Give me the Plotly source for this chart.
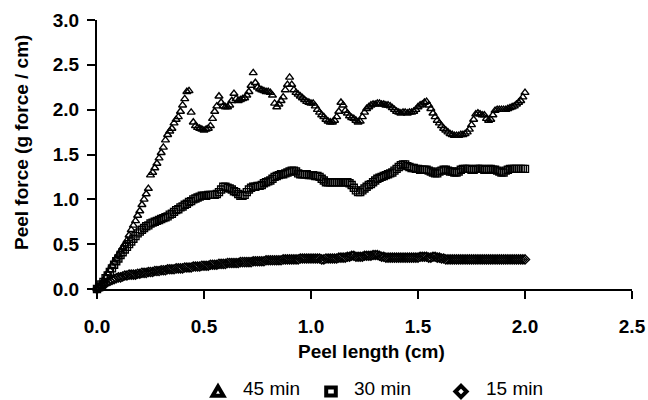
import plotly.graph_objects as go

# Peel force (g force / cm) read every 0.01 cm of peel length, from 0.00 to 2.00 cm
force_45 = [
    0.00, 0.02, 0.06, 0.09, 0.13, 0.17, 0.21, 0.26, 0.30, 0.34,
    0.38, 0.42, 0.46, 0.50, 0.54, 0.60, 0.66, 0.71, 0.76, 0.82,
    0.87, 0.94, 1.00, 1.06, 1.12, 1.27, 1.30, 1.35, 1.40, 1.46,
    1.52, 1.58, 1.66, 1.72, 1.76, 1.79, 1.85, 1.89, 1.92, 1.98,
    2.05, 2.12, 2.20, 2.21, 1.97, 1.86, 1.82, 1.80, 1.79, 1.78,
    1.77, 1.78, 1.79, 1.82, 1.90, 1.98, 2.04, 2.15, 2.08, 2.04,
    2.03, 2.03, 2.05, 2.10, 2.18, 2.12, 2.10, 2.11, 2.12, 2.13,
    2.16, 2.20, 2.27, 2.41, 2.30, 2.25, 2.23, 2.22, 2.21, 2.20,
    2.20, 2.19, 2.16, 2.07, 2.03, 2.06, 2.10, 2.14, 2.22, 2.28,
    2.36, 2.28, 2.22, 2.19, 2.17, 2.15, 2.13, 2.11, 2.09, 2.08,
    2.07, 2.07, 2.04, 2.00, 1.97, 1.94, 1.92, 1.89, 1.87, 1.86,
    1.86, 1.88, 1.92, 1.98, 2.08, 2.05, 1.99, 1.96, 1.93, 1.91,
    1.90, 1.88, 1.86, 1.87, 1.92, 1.97, 2.01, 2.03, 2.05, 2.06,
    2.06, 2.07, 2.07, 2.06, 2.06, 2.05, 2.05, 2.04, 2.02, 2.00,
    1.98, 1.97, 1.96, 1.97, 1.97, 1.96, 1.97, 1.97, 1.98, 2.00,
    2.03, 2.05, 2.06, 2.08, 2.09, 2.05, 2.01, 1.96, 1.92, 1.88,
    1.85, 1.82, 1.79, 1.77, 1.75, 1.73, 1.72, 1.71, 1.71, 1.71,
    1.72, 1.72, 1.73, 1.75, 1.78, 1.83, 1.89, 1.95, 1.96, 1.95,
    1.94, 1.94, 1.90, 1.88, 1.89, 1.94, 1.99, 2.00, 2.00, 2.00,
    2.00, 2.00, 2.01, 2.02, 2.03, 2.04, 2.06, 2.08, 2.10, 2.14,
    2.19,
]

force_30 = [
    0.00, 0.02, 0.05, 0.08, 0.12, 0.15, 0.19, 0.23, 0.27, 0.31,
    0.34, 0.38, 0.41, 0.44, 0.47, 0.50, 0.53, 0.56, 0.59, 0.62,
    0.64, 0.66, 0.68, 0.70, 0.71, 0.73, 0.74, 0.75, 0.76, 0.77,
    0.78, 0.79, 0.80, 0.81, 0.83, 0.84, 0.86, 0.88, 0.89, 0.91,
    0.92, 0.94, 0.95, 0.97, 0.98, 1.00, 1.01, 1.02, 1.03, 1.04,
    1.04, 1.04, 1.05, 1.05, 1.05, 1.05, 1.06, 1.08, 1.11, 1.14,
    1.14, 1.13, 1.12, 1.11, 1.09, 1.08, 1.06, 1.04, 1.04, 1.05,
    1.08, 1.11, 1.13, 1.14, 1.14, 1.15, 1.15, 1.16, 1.18, 1.19,
    1.20, 1.21, 1.23, 1.25, 1.26, 1.27, 1.28, 1.28, 1.29, 1.30,
    1.31, 1.32, 1.32, 1.31, 1.29, 1.28, 1.28, 1.28, 1.28, 1.27,
    1.27, 1.27, 1.26, 1.26, 1.25, 1.23, 1.21, 1.19, 1.19, 1.19,
    1.19, 1.19, 1.19, 1.19, 1.19, 1.19, 1.19, 1.19, 1.18, 1.16,
    1.13, 1.10, 1.08, 1.08, 1.10, 1.12, 1.14, 1.16, 1.17, 1.19,
    1.21, 1.23, 1.24, 1.25, 1.26, 1.27, 1.28, 1.29, 1.30, 1.32,
    1.34, 1.36, 1.38, 1.39, 1.39, 1.37, 1.36, 1.35, 1.35, 1.34,
    1.34, 1.33, 1.33, 1.33, 1.33, 1.32, 1.31, 1.30, 1.29, 1.29,
    1.31, 1.32, 1.33, 1.33, 1.32, 1.31, 1.31, 1.30, 1.30, 1.31,
    1.33, 1.34, 1.34, 1.34, 1.34, 1.33, 1.33, 1.34, 1.34, 1.34,
    1.34, 1.33, 1.33, 1.34, 1.34, 1.33, 1.33, 1.32, 1.31, 1.30,
    1.30, 1.32, 1.33, 1.34, 1.34, 1.34, 1.34, 1.34, 1.34, 1.34,
    1.34,
]

force_15 = [
    0.00, 0.02, 0.03, 0.05, 0.06, 0.08, 0.09, 0.10, 0.11, 0.12,
    0.13, 0.13, 0.14, 0.15, 0.15, 0.16, 0.16, 0.16, 0.16, 0.17,
    0.17, 0.18, 0.18, 0.18, 0.19, 0.19, 0.19, 0.20, 0.20, 0.20,
    0.21, 0.21, 0.21, 0.22, 0.22, 0.22, 0.22, 0.23, 0.23, 0.23,
    0.23, 0.24, 0.24, 0.24, 0.24, 0.25, 0.25, 0.25, 0.25, 0.26,
    0.26, 0.26, 0.26, 0.27, 0.27, 0.27, 0.27, 0.28, 0.28, 0.28,
    0.28, 0.29, 0.29, 0.29, 0.29, 0.29, 0.29, 0.30, 0.30, 0.30,
    0.30, 0.30, 0.30, 0.31, 0.31, 0.31, 0.31, 0.31, 0.31, 0.32,
    0.32, 0.32, 0.32, 0.32, 0.32, 0.32, 0.32, 0.33, 0.33, 0.33,
    0.33, 0.33, 0.33, 0.33, 0.33, 0.34, 0.34, 0.34, 0.34, 0.34,
    0.34, 0.34, 0.34, 0.34, 0.34, 0.33, 0.33, 0.34, 0.34, 0.34,
    0.34, 0.34, 0.34, 0.35, 0.35, 0.35, 0.35, 0.36, 0.36, 0.37,
    0.37, 0.36, 0.36, 0.36, 0.36, 0.37, 0.37, 0.37, 0.37, 0.38,
    0.38, 0.38, 0.37, 0.36, 0.36, 0.35, 0.35, 0.35, 0.35, 0.35,
    0.35, 0.35, 0.35, 0.35, 0.35, 0.35, 0.35, 0.35, 0.35, 0.35,
    0.35, 0.36, 0.36, 0.36, 0.36, 0.35, 0.35, 0.36, 0.36, 0.35,
    0.35, 0.34, 0.34, 0.33, 0.33, 0.33, 0.33, 0.33, 0.33, 0.33,
    0.33, 0.33, 0.33, 0.33, 0.33, 0.33, 0.33, 0.33, 0.33, 0.33,
    0.33, 0.33, 0.33, 0.33, 0.33, 0.33, 0.33, 0.33, 0.33, 0.33,
    0.33, 0.33, 0.33, 0.33, 0.33, 0.33, 0.33, 0.33, 0.33, 0.33,
    0.33,
]

# Peel length (cm) at which each reading was taken (every 0.01 cm)
peel_length = [round(i * 0.01, 2) for i in range(201)]

series_names = ["45 min", "30 min", "15 min"]
series_symbols = ["triangle-up-open", "square-open", "diamond-open"]
series_values = [force_45, force_30, force_15]

x_ticks = [0.0, 0.5, 1.0, 1.5, 2.0, 2.5]
y_ticks = [0.0, 0.5, 1.0, 1.5, 2.0, 2.5, 3.0]

FONT = "Liberation Sans, Arial, sans-serif"

# plot-area geometry in pixels (used to place the legend keys/text)
W, H = 648, 400
L, R, T, B = 97, 16, 20, 111
PW, PH = W - L - R, H - T - B


def px_to_paper_x(px):
    return (px - L) / PW


def px_to_paper_y(py):
    return (H - B - py) / PH


fig = go.Figure()
for name, sym, vals in zip(series_names, series_symbols, series_values):
    fig.add_trace(go.Scatter(
        x=peel_length[:len(vals)], y=vals, mode="markers", name=name, showlegend=False,
        cliponaxis=False,
        marker=dict(symbol=sym, size=7, color="black",
                    line=dict(color="black", width=1.4)),
    ))

# Legend: key symbols drawn as pixel-sized shapes, labels as text
key_paths = {
    "triangle-up-open": "M -5.4,-4.2 L 5.4,-4.2 L 0,5 Z",
    "square-open": "M -4.8,-4 L 4.8,-4 L 4.8,4 L -4.8,4 Z",
    "diamond-open": "M 0,-5.6 L 5.6,0 L 0,5.6 L -5.6,0 Z",
}
key_centers_px = [218, 331, 461]
label_left_px = [242, 353, 485]
legend_key_y_px = 391.5
legend_text_bottom_px = 400

shapes = []
annotations = []
for name, sym, kx, tx in zip(series_names, series_symbols, key_centers_px, label_left_px):
    shapes.append(dict(
        type="path", xref="paper", yref="paper",
        xsizemode="pixel", ysizemode="pixel",
        xanchor=px_to_paper_x(kx), yanchor=px_to_paper_y(legend_key_y_px),
        path=key_paths[sym], line=dict(color="black", width=4),
        fillcolor="rgba(0,0,0,0)", layer="above",
    ))
    annotations.append(dict(
        text=name, xref="paper", yref="paper",
        x=px_to_paper_x(tx), y=px_to_paper_y(legend_text_bottom_px),
        xanchor="left", yanchor="bottom", showarrow=False, borderpad=0,
        font=dict(family=FONT, size=19, color="black"),
    ))

annotations += [
    dict(text="Peel length (cm)", xref="paper", yref="paper",
         x=px_to_paper_x(371), y=px_to_paper_y(351), xanchor="center", yanchor="middle",
         showarrow=False, font=dict(family=FONT, size=19, weight="bold", color="black")),
    dict(text="Peel force (g force / cm)", xref="paper", yref="paper",
         x=px_to_paper_x(21), y=px_to_paper_y(143), xanchor="center", yanchor="middle",
         showarrow=False, textangle=-90,
         font=dict(family=FONT, size=19, weight="bold", color="black")),
]

axis_common = dict(
    showline=True, linecolor="black", linewidth=2, mirror=False,
    ticks="outside", ticklen=8, tickwidth=1.5, tickcolor="black",
    showgrid=False, zeroline=False, automargin=False,
    tickfont=dict(family=FONT, size=19, weight="bold", color="black"),
)

fig.update_layout(
    width=W, height=H,
    margin=dict(l=L, r=R, t=T, b=B),
    paper_bgcolor="white", plot_bgcolor="white",
    font=dict(family=FONT, color="black"),
    showlegend=False,
    xaxis=dict(range=[0, 2.5], tickvals=x_ticks, ticktext=[f"{v:.1f}" for v in x_ticks],
               ticklabelstandoff=11, **axis_common),
    yaxis=dict(range=[0, 3.0], tickvals=y_ticks, ticktext=[f"{v:.1f}" for v in y_ticks],
               ticklabelstandoff=4, **axis_common),
    shapes=shapes,
    annotations=annotations,
)

# remove the page's default 8px body margin so the figure fills the window exactly
fig.write_html("out.html", config={"displayModeBar": False},
               post_script="document.body.style.margin='0';document.body.style.overflow='hidden';")
